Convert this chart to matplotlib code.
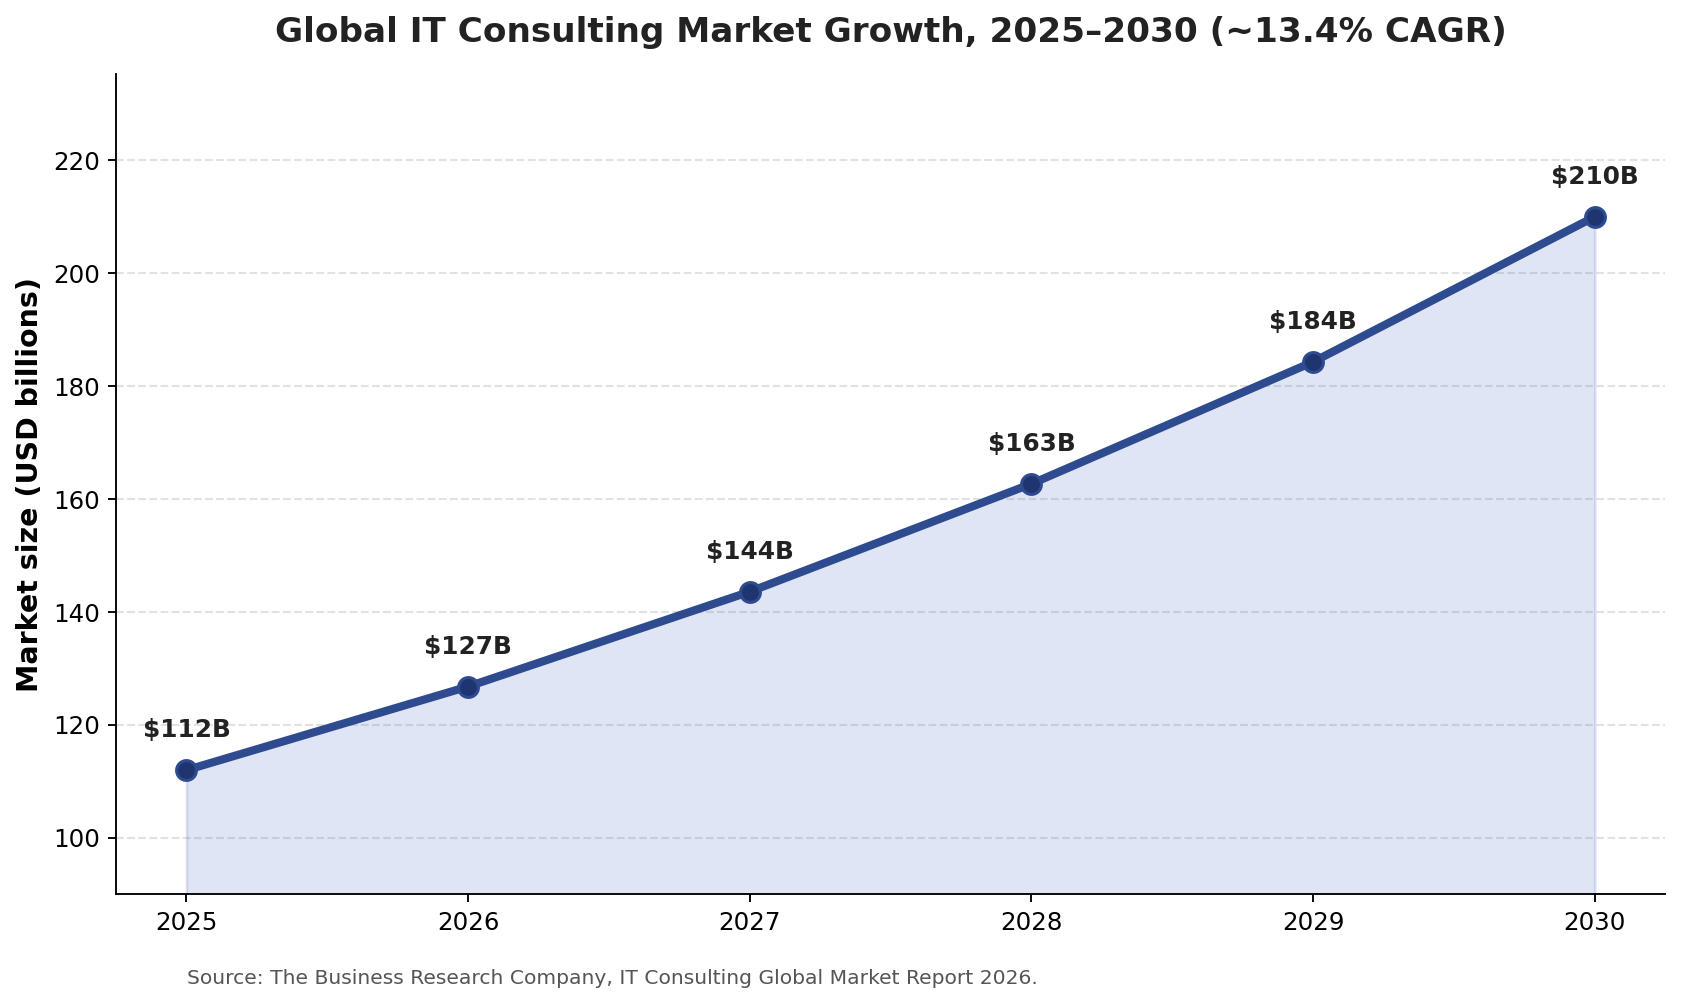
import matplotlib
matplotlib.use("Agg")
import matplotlib.pyplot as plt

years = [2025, 2026, 2027, 2028, 2029, 2030]
market_size = [112.0, 126.8, 143.6, 162.7, 184.3, 210.0]
labels = ["$112B", "$127B", "$144B", "$163B", "$184B", "$210B"]

DPI = 168
fig = plt.figure(figsize=(1682 / DPI, 1006 / DPI), dpi=DPI)
ax = fig.add_axes([0.069, 0.111, 0.921, 0.815])

line_col = "#2f4b8f"
ax.fill_between(years, market_size, 80, color="#3354bd", alpha=0.15, linewidth=1.2, zorder=1)
ax.plot(years, market_size, color=line_col, linewidth=3.5, marker="o", markersize=8.5,
        markerfacecolor="#1f3570", markeredgecolor=line_col, markeredgewidth=1.3, zorder=3)

for x, y, s in zip(years, market_size, labels):
    ax.annotate(s, (x, y), xytext=(0, 12), textcoords="offset points",
                ha="center", va="bottom", fontsize=10.6, fontweight="bold", color="#222222")

ax.set_ylim(90, max(market_size) * 1.12)
ax.set_xticks(years)
ax.set_xticklabels([str(y) for y in years])
ax.tick_params(labelsize=10.5)
ax.set_yticks(range(100, 221, 20))
ax.grid(axis="y", linestyle="--", color="#e2e2e2", linewidth=0.9)
ax.set_axisbelow(True)
for side in ("top", "right"):
    ax.spines[side].set_visible(False)

ax.set_ylabel("Market size (USD billions)", fontsize=12.2, fontweight="bold")
ax.set_title("Global IT Consulting Market Growth, 2025\u20132030 (~13.4% CAGR)",
             fontsize=14.7, fontweight="bold", color="#222222", pad=14)

fig.text(0.111, 0.027, "Source: The Business Research Company, IT Consulting Global Market Report 2026.",
         fontsize=8.66, color="#555555", ha="left", va="center")

fig.savefig("out.png", dpi=DPI)
